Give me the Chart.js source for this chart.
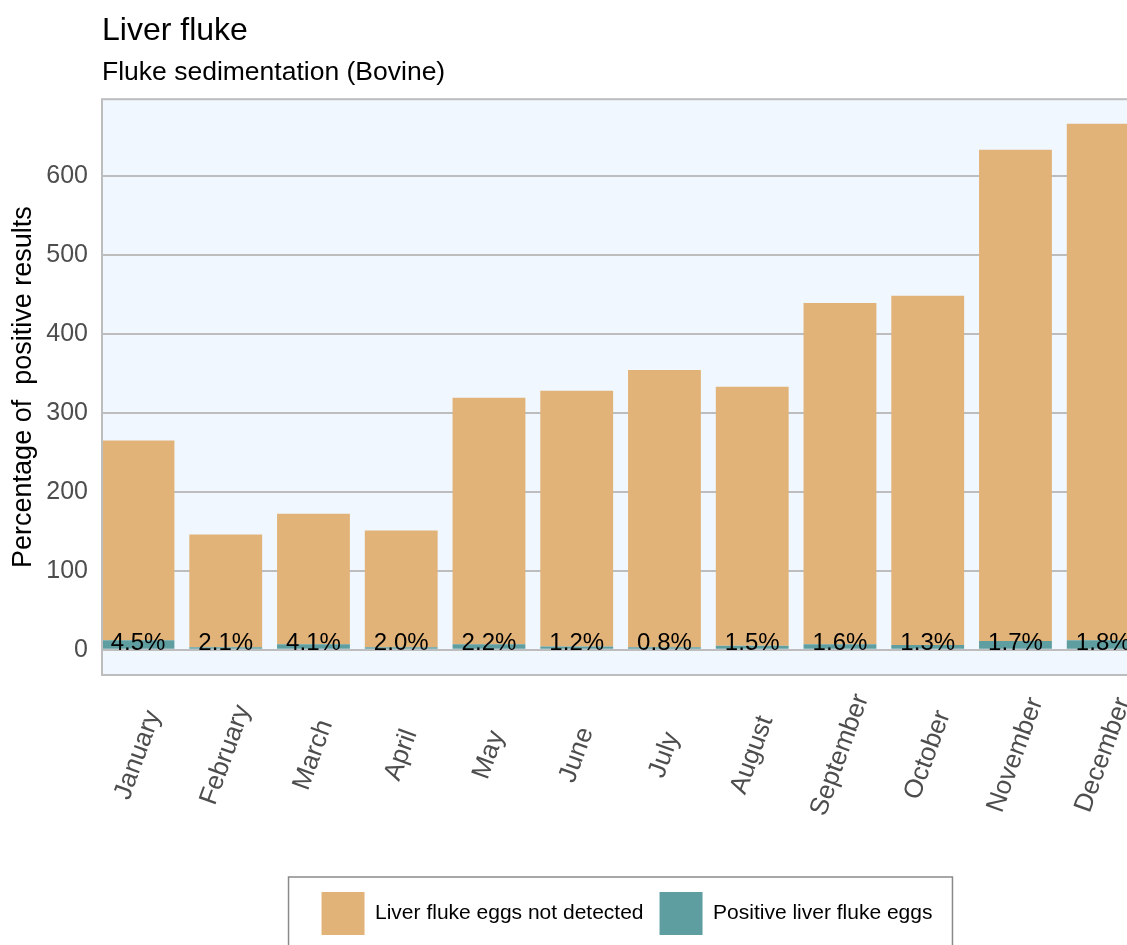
<!DOCTYPE html>
<html>
<head>
<meta charset="utf-8">
<script src="https://cdn.jsdelivr.net/npm/chart.js@4"></script>
<style>
  html, body { margin: 0; padding: 0; background: #fff; overflow: hidden; }
  #wrap { width: 1254px; height: 945px; }
</style>
</head>
<body>
<div id="wrap"><canvas id="chart" width="1254" height="945"></canvas></div>
<script>
const months = ['January', 'February', 'March', 'April', 'May', 'June', 'July',
  'August', 'September', 'October', 'November', 'December'];
const positive = [12, 3, 7, 3, 7, 4, 3, 5, 7, 6, 11, 12];
const notDetected = [253, 143, 165, 148, 312, 324, 351, 328, 432, 442, 622, 654];
const pctLabels = ['4.5%', '2.1%', '4.1%', '2.0%', '2.2%', '1.2%', '0.8%', '1.5%', '1.6%', '1.3%', '1.7%', '1.8%'];
const yTicks = [0, 100, 200, 300, 400, 500, 600];

const FONT = "'Liberation Sans', Arial, sans-serif";
const TAN = '#E1B378';
const TEAL = '#5F9EA0';

// panel background + border, labels, legend frame
const panel = {
  id: 'panel',
  beforeDraw(chart) {
    const { ctx, chartArea: a } = chart;
    ctx.save();
    ctx.fillStyle = '#F0F7FE';
    ctx.fillRect(a.left, a.top, a.right - a.left, a.bottom - a.top);
    ctx.restore();
  },
  afterDatasetsDraw(chart) {
    const { ctx, chartArea: a } = chart;
    const meta = chart.getDatasetMeta(0);
    const y0 = chart.scales.y.getPixelForValue(0);
    ctx.save();
    ctx.font = '24px ' + FONT;
    ctx.fillStyle = '#000';
    ctx.textAlign = 'center';
    ctx.textBaseline = 'alphabetic';
    meta.data.forEach((bar, i) => ctx.fillText(pctLabels[i], bar.x, y0));
    ctx.strokeStyle = '#BDBDBD';
    ctx.lineWidth = 2;
    ctx.strokeRect(a.left, a.top, a.right - a.left, a.bottom - a.top);
    ctx.restore();
  },
  afterDraw(chart) {
    const { ctx } = chart;
    const xs = chart.scales.x;
    // month labels, rotated and centred under each bar
    ctx.save();
    ctx.font = '26px ' + FONT;
    ctx.fillStyle = '#4D4D4D';
    ctx.textAlign = 'center';
    ctx.textBaseline = 'middle';
    months.forEach((m, i) => {
      ctx.save();
      ctx.translate(xs.getPixelForValue(i), 755);
      ctx.rotate(-70 * Math.PI / 180);
      ctx.fillText(m, 0, 0);
      ctx.restore();
    });
    ctx.restore();

    const hb = chart.legend.legendHitBoxes;
    if (!hb || !hb.length) return;
    const last = hb[hb.length - 1];
    ctx.save();
    ctx.strokeStyle = '#8A8A8A';
    ctx.lineWidth = 1.5;
    const left = hb[0].left - 33;
    ctx.strokeRect(left, hb[0].top - 15, last.left + last.width + 20 - left, 120);
    ctx.restore();
  }
};

new Chart(document.getElementById('chart'), {
  type: 'bar',
  data: {
    datasets: [
      {
        label: 'Positive liver fluke eggs',
        data: positive.map((v, i) => ({ x: i, y: v })),
        backgroundColor: TEAL,
        barPercentage: 0.83,
        categoryPercentage: 1
      },
      {
        label: 'Liver fluke eggs not detected',
        data: notDetected.map((v, i) => ({ x: i, y: v })),
        backgroundColor: TAN,
        barPercentage: 0.83,
        categoryPercentage: 1
      }
    ]
  },
  options: {
    responsive: false,
    animation: false,
    layout: { padding: { left: 0, right: 102, top: 0, bottom: 0 } },
    scales: {
      x: {
        type: 'linear',
        stacked: true,
        offset: false,
        min: -0.41,
        max: 11.556,
        afterBuildTicks: (s) => { s.ticks = months.map((m, i) => ({ value: i })); },
        afterFit: (s) => { s.height = 201; },
        grid: { display: false },
        border: { display: false },
        ticks: { display: false }
      },
      y: {
        stacked: true,
        min: -32,
        max: 697,
        afterBuildTicks: (s) => { s.ticks = yTicks.map(v => ({ value: v })); },
        afterFit: (s) => { s.width = 102; },
        grid: { color: '#BDBDBD', lineWidth: 2, drawTicks: false },
        border: { display: false },
        ticks: {
          padding: 14,
          color: '#4D4D4D',
          font: { family: FONT, size: 25 }
        },
        title: {
          display: true,
          text: 'Percentage of  positive results',
          color: '#000',
          font: { family: FONT, size: 27 },
          padding: { top: 7, bottom: 0 }
        }
      }
    },
    plugins: {
      title: {
        display: true,
        text: 'Liver fluke',
        align: 'start',
        fullSize: false,
        color: '#000',
        font: { family: FONT, size: 32, weight: 'normal' },
        padding: { top: 12, bottom: 6 }
      },
      subtitle: {
        display: true,
        text: 'Fluke sedimentation (Bovine)',
        align: 'start',
        fullSize: false,
        color: '#000',
        font: { family: FONT, size: 26.5, weight: 'normal' },
        padding: { top: 0, bottom: 11 }
      },
      legend: {
        position: 'bottom',
        fullSize: false,
        reverse: true,
        labels: {
          boxWidth: 43,
          boxHeight: 43,
          padding: 16,
          color: '#000',
          font: { family: FONT, size: 21 }
        }
      },
      tooltip: { enabled: false }
    }
  },
  plugins: [panel]
});
</script>
</body>
</html>
